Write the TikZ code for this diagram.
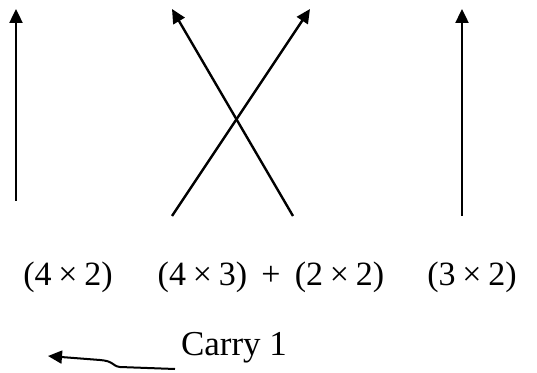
\documentclass[tikz,border=0pt]{standalone}
\usepackage{fontspec}
\setmainfont{Liberation Serif}
\usetikzlibrary{arrows.meta, positioning}
\tikzset{el/.style={line cap=butt, line join=round}}
\newcommand\tms{\hspace{.2em}×\hspace{.2em}}
\newcommand\pls{\hspace{.42em}+\hspace{.42em}}

\begin{document}
\begin{tikzpicture}[el, x=1pt, y=1pt,
     prod/.style={inner sep=0pt, anchor=base, font=\fontsize{34}{40}\selectfont},
     lbl/.style={inner sep=0pt, anchor=base, font=\fontsize{35}{40}\selectfont},
     ar/.style={-{Triangle[length=14pt, width=13pt]}, line width=2.4pt}]
     \useasboundingbox (0,0) rectangle (537,372);
     % products of the digits
     \node[prod] (p1) at (68,87) {(4\tms2)};
     \node[prod] (p2) at (271,87) {(4\tms3)\pls(2\tms2)};
     \node[prod] (p3) at (472,87) {(3\tms2)};
     \node[lbl] (c) at (234,17) {Carry 1};
     % arrow ends
     \coordinate (a1) at (16,171);  \coordinate (b1) at (16,363);
     \coordinate (a2) at (172,156); \coordinate (b2) at (310,363);
     \coordinate (a3) at (293,156); \coordinate (b3) at (172,363);
     \coordinate (a4) at (462,156); \coordinate (b4) at (462,363);
     \coordinate (cs) at (175,3);   \coordinate (ce) at (48,16);
     \draw[ar] (a1)--(b1);\draw[ar] (a2)--(b2);\draw[ar] (a3)--(b3);\draw[ar] (a4)--(b4);
     \draw[ar, line width=2pt] (cs) -- (120,5) .. controls (112,6) and (114,11) .. (100,12) -- (ce);
  \end{tikzpicture}
\end{document}
